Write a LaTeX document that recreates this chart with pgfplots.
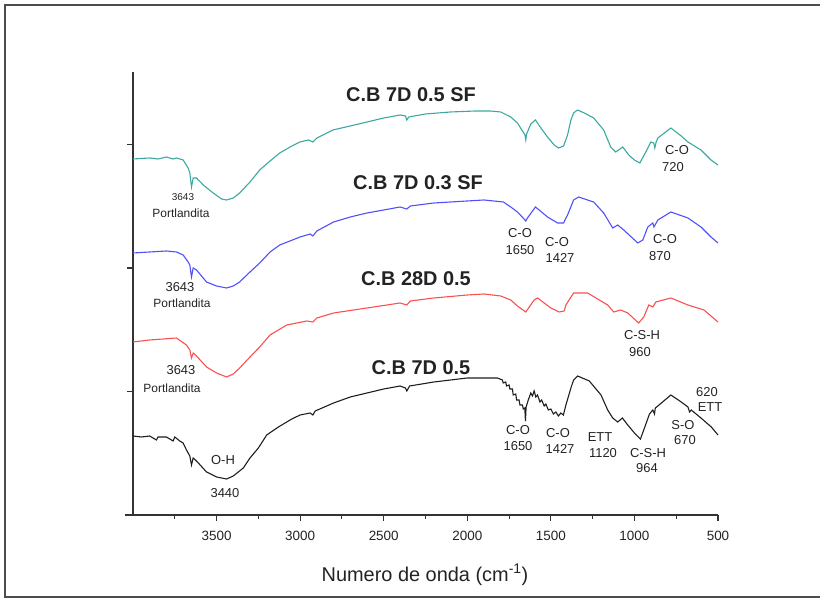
\documentclass[border=0pt]{standalone}
\usepackage{pgfplots}
\pgfplotsset{compat=1.18}
\usepackage{fontspec}
\setmainfont{Liberation Sans}

\definecolor{cteal}{RGB}{60,168,160}
\definecolor{cblue}{RGB}{80,80,250}
\definecolor{cred}{RGB}{250,80,80}
\definecolor{cblack}{RGB}{30,30,30}
\definecolor{ctext}{RGB}{35,35,35}

\begin{document}
\begin{tikzpicture}[x=1bp,y=1bp]
\useasboundingbox (0,0) rectangle (820,601);
% outer frame
\draw[line width=2bp, black!70] (822,4) -- (5,4) -- (5,596) -- (822,596);

\begin{axis}[
  at={(133bp,86bp)}, anchor=south west,
  scale only axis, width=585bp, height=443bp,
  x dir=reverse, xmin=500, xmax=4000, ymin=0, ymax=443,
  axis x line*=bottom, axis y line*=left,
  axis line style={-, line width=1.3bp, black!80},
  xtick={500,1000,...,3500}, minor xtick={750,1250,...,3750},
  ytick={123.5,247,370.5}, yticklabels={},
  tick align=outside,
  major tick length=6bp, minor tick length=4bp,
  every tick/.style={line width=1.1bp, black!80},
  scaled x ticks=false,
  /pgf/number format/1000 sep={},
  /pgf/number format/assume math mode=true,
  xticklabel style={font=\fontsize{13.5}{15}\selectfont, text=ctext, yshift=-7bp},
  clip=false,
]
% C.B 7D 0.5 SF
\addplot[cteal, line width=1.1bp] coordinates {
(4000,356)(3900,357)(3850,356)(3800,358)(3760,356)(3740,357)(3700,355)(3670,347)
(3660,342)(3650,328)(3640,337)(3620,337)(3580,330)(3520,322)(3470,316)(3440,315)
(3400,317)(3362,322)(3300,333)(3242,345)(3180,354)(3122,362)(3060,368)(3002,373)
(2950,375)(2924,373)(2900,377)(2804,385)(2700,389)(2600,393)(2500,397)(2402,400)
(2370,399)(2362,395)(2350,398)(2250,401)(2100,403)(1950,404)(1862,404)(1800,403)
(1740,398)(1700,392)(1670,384)(1655,380)(1650,375)(1645,381)(1620,391)(1592,395)
(1560,387)(1520,378)(1480,370)(1454,367)(1424,369)(1400,380)(1380,395)(1364,402)
(1340,405)(1300,402)(1244,397)(1184,385)(1142,368)(1112,363)(1070,368)(1034,360)
(1000,355)(968,352)(932,363)(902,373)(884,372)(878,367)(870,373)(860,377)
(782,387)(720,379)(680,373)(602,365)(542,355)(500,350)
};
% C.B 7D 0.3 SF
\addplot[cblue, line width=1.1bp] coordinates {
(4000,262)(3900,263)(3800,264)(3740,263)(3700,260)(3670,253)(3660,250)(3650,238)
(3640,247)(3620,245)(3560,233)(3500,229)(3440,227)(3400,229)(3362,233)(3300,243)
(3242,252)(3180,263)(3122,270)(3000,278)(2940,281)(2924,279)(2900,284)(2800,293)
(2700,298)(2600,302)(2500,305)(2402,308)(2362,306)(2340,309)(2200,312)(2000,314)
(1900,315)(1784,313)(1740,308)(1700,303)(1660,296)(1650,294)(1640,297)(1592,308)
(1520,298)(1460,292)(1424,292)(1410,297)(1400,300)(1364,315)(1334,318)(1244,313)
(1184,302)(1130,287)(1100,290)(1064,285)(980,272)(950,275)(920,288)(890,292)
(883,288)(860,295)(782,303)(680,297)(602,288)(542,278)(500,272)
};
% C.B 28D 0.5
\addplot[cred, line width=1.1bp] coordinates {
(4000,173)(3900,175)(3740,177)(3680,170)(3660,165)(3650,157)(3640,162)(3620,159)
(3560,148)(3500,142)(3440,138)(3400,141)(3362,147)(3300,158)(3242,168)(3180,180)
(3080,190)(2960,194)(2924,193)(2900,197)(2800,202)(2600,207)(2402,212)(2362,210)
(2340,214)(2200,217)(2000,220)(1900,221)(1800,219)(1740,215)(1700,209)(1650,203)
(1600,215)(1580,217)(1500,207)(1450,203)(1420,204)(1410,210)(1364,222)(1280,222)
(1160,210)(1124,203)(1082,205)(1040,202)(975,192)(944,198)(914,210)(890,208)
(872,213)(782,217)(680,210)(584,205)(500,193)
};
% C.B 7D 0.5
\addplot[cblack, line width=1.1bp] coordinates {
(4000,79)(3950,78)(3900,79)(3860,75)(3850,78)(3800,78)(3760,74)(3750,78)
(3720,74)(3700,72)(3680,65)(3660,59)(3650,50)(3640,57)(3620,54)(3560,43)
(3500,38)(3440,36)(3400,39)(3340,47)(3300,57)(3250,67)(3200,80)(3130,88)
(3050,96)(3000,100)(2940,102)(2924,100)(2910,104)(2800,112)(2700,118)(2600,122)
(2500,126)(2402,129)(2370,127)(2362,124)(2345,129)(2200,133)(2000,137)(1820,137)
(1790,135)(1785,132)(1770,133)(1765,129)(1750,130)(1745,126)(1730,126)(1725,120)
(1710,121)(1705,115)(1690,115)(1685,110)(1670,110)(1665,106)(1656,107)(1652,94)
(1648,108)(1635,115)(1620,122)(1610,119)(1600,124)(1590,118)(1580,120)(1565,113)
(1555,115)(1540,109)(1530,111)(1515,105)(1500,106)(1485,101)(1470,103)(1455,99)
(1440,102)(1425,100)(1410,110)(1380,127)(1364,135)(1340,139)(1270,134)(1200,120)
(1160,105)(1130,97)(1100,93)(1072,97)(1040,90)(1000,82)(964,76)(940,87)
(910,101)(890,105)(880,101)(875,107)(860,109)(782,120)(720,113)(680,108)
(670,103)(660,105)(602,97)(540,88)(500,80)
};
\end{axis}
% bottom axis line runs a little past the vertical axis
\draw[line width=1.3bp, black!80] (125,86) -- (133,86);

% axis title
\node[text=ctext, font=\fontsize{20}{24}\selectfont] at (425,26) {Numero de onda (cm\textsuperscript{-1})};

% series names
\begin{scope}[every node/.style={text=ctext, font=\bfseries\fontsize{20}{24}\selectfont, inner sep=0pt}]
\node at (411,506) {C.B 7D 0.5 SF};
\node at (418,418) {C.B 7D 0.3 SF};
\node at (416,322) {C.B 28D 0.5};
\node at (421,233) {C.B 7D 0.5};
\end{scope}

% band assignments
\begin{scope}[every node/.style={text=ctext, font=\fontsize{13}{15}\selectfont, inner sep=0pt}]
\node[font=\fontsize{10}{12}\selectfont] at (183,404) {3643};
\node[font=\fontsize{12}{14}\selectfont] at (181,388) {Portlandita};
\node at (180,314) {3643};
\node[font=\fontsize{12}{14}\selectfont] at (182,298) {Portlandita};
\node at (181,231) {3643};
\node[font=\fontsize{12}{14}\selectfont] at (172,213) {Portlandita};
\node at (223,141) {O-H};
\node at (225,108) {3440};
\node at (677,451) {C-O};
\node at (673,434) {720};
\node at (520,368) {C-O};
\node at (520,351) {1650};
\node at (557,359) {C-O};
\node at (560,343) {1427};
\node at (665,362) {C-O};
\node at (660,345) {870};
\node at (642,266) {C-S-H};
\node at (640,249) {960};
\node at (518,171) {C-O};
\node at (518,155) {1650};
\node at (558,168) {C-O};
\node at (560,152) {1427};
\node at (600,164) {ETT};
\node at (603,148) {1120};
\node at (648,148) {C-S-H};
\node at (647,133) {964};
\node at (683,176) {S-O};
\node at (685,161) {670};
\node at (707,209) {620};
\node at (710,194) {ETT};
\end{scope}
\end{tikzpicture}
\end{document}
